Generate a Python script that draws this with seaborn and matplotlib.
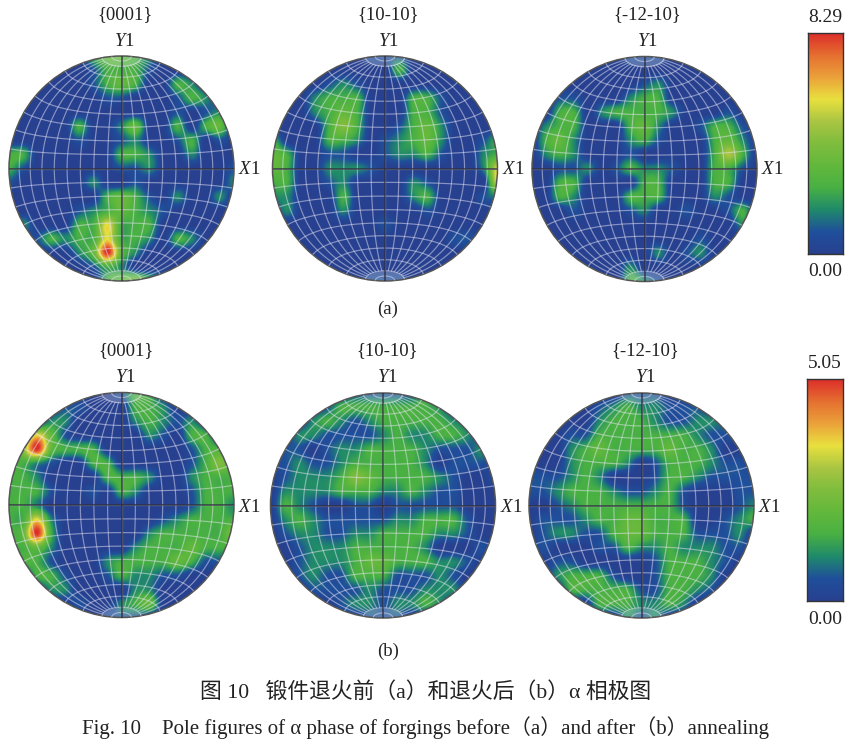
import numpy as np
import matplotlib
matplotlib.use("Agg")
import matplotlib.pyplot as plt
from matplotlib.patches import Circle
import seaborn as sns

# intensities in tenths of the colour scale, 17 x 17 samples over each disk, top row first
a_0001 = [
    [0,0,0,0,0,0,3,4,4,3,2,0,0,0,0,0,0],
    [0,0,0,0,0,0,1,3,3,3,1,0,0,0,0,0,0],
    [0,0,0,0,0,0,1,3,4,3,0,0,3,2,0,0,0],
    [0,0,0,0,0,0,0,1,1,0,0,0,1,3,2,0,0],
    [0,0,0,0,0,0,0,0,0,0,0,0,1,0,1,2,0],
    [0,0,0,0,0,3,0,0,2,4,0,0,3,0,3,4,0],
    [0,0,0,0,0,1,0,0,1,2,0,0,1,3,0,1,0],
    [3,3,0,0,0,0,0,0,3,3,2,0,0,2,0,0,0],
    [3,1,0,0,0,0,0,0,1,1,2,0,0,0,0,0,1],
    [1,0,0,0,0,0,2,0,0,1,0,0,0,0,0,0,2],
    [0,0,0,0,0,0,0,3,4,3,1,0,2,0,0,2,0],
    [0,0,0,0,0,1,2,3,4,3,2,1,0,0,0,0,0],
    [0,2,0,0,0,3,3,7,3,3,3,0,0,0,0,0,0],
    [0,0,1,3,2,3,3,7,3,3,2,0,3,2,0,0,0],
    [0,0,0,0,0,2,4,10,4,2,0,0,0,0,0,0,0],
    [0,0,0,0,0,0,1,3,2,0,0,0,0,0,0,0,0],
    [0,0,0,0,0,0,0,3,4,5,3,2,0,0,0,0,0],
]
a_1010 = [
    [0,0,0,0,0,0,0,1,1,1,0,0,0,0,0,0,0],
    [0,0,0,0,0,0,0,0,0,3,0,0,0,0,0,0,0],
    [0,0,0,0,1,2,1,0,0,0,0,0,0,0,0,0,0],
    [0,0,0,2,3,3,3,0,0,0,3,3,1,0,0,0,0],
    [0,0,0,2,3,4,3,0,0,0,3,3,1,0,0,0,0],
    [0,0,0,0,3,5,3,0,0,1,3,4,2,0,0,0,0],
    [3,0,0,0,3,3,2,0,1,2,3,4,2,0,0,1,3],
    [4,3,0,0,1,1,0,0,1,2,2,3,1,0,0,2,3],
    [4,3,0,0,2,2,2,1,0,0,0,0,0,0,0,2,7],
    [3,3,0,0,1,2,0,0,0,0,2,1,0,0,0,0,7],
    [2,2,0,0,0,3,0,0,0,0,2,3,0,0,0,1,2],
    [0,2,0,0,0,2,0,0,0,0,0,1,0,0,0,0,0],
    [0,0,0,0,0,0,0,0,1,0,0,0,0,0,0,0,0],
    [0,0,0,0,0,0,0,0,0,0,0,0,0,1,1,0,0],
    [0,0,0,0,0,0,0,0,0,0,0,0,0,0,0,0,0],
    [0,0,0,0,0,0,0,0,0,0,0,0,0,0,0,0,0],
    [0,0,0,0,0,0,0,1,1,1,0,0,0,0,0,0,0],
]
a_1210 = [
    [0,0,0,0,0,0,0,1,1,1,0,0,0,0,0,0,0],
    [0,0,0,0,0,0,0,0,0,0,0,0,0,0,0,0,0],
    [0,0,0,0,0,0,0,0,1,2,0,0,0,0,0,0,0],
    [0,0,1,1,0,0,0,2,3,3,0,0,0,0,0,0,0],
    [0,0,3,3,0,2,3,3,3,3,2,0,0,0,1,0,0],
    [0,2,3,3,0,0,0,3,4,2,0,0,1,3,3,1,0],
    [0,3,4,2,0,0,0,2,3,1,0,0,0,3,4,2,0],
    [0,2,3,2,0,0,0,1,0,0,0,0,0,3,6,3,0],
    [0,0,1,1,2,0,1,3,2,2,1,0,0,3,3,1,0],
    [0,0,3,3,0,0,0,0,3,3,0,0,0,3,3,0,0],
    [0,0,3,2,0,0,0,3,3,3,0,0,0,2,1,0,0],
    [0,0,0,1,0,0,0,1,2,0,0,1,0,0,1,3,0],
    [0,0,0,0,0,0,0,0,0,0,0,0,0,0,0,2,0],
    [0,0,0,0,0,0,0,0,0,0,0,0,1,0,0,0,0],
    [0,0,0,0,0,0,0,0,0,2,0,1,2,0,0,0,0],
    [0,0,0,0,0,0,0,2,0,0,0,0,0,0,0,0,0],
    [0,0,0,0,0,0,0,3,2,1,0,0,0,0,0,0,0],
]
b_0001 = [
    [0,0,0,0,0,0,0,0,1,3,3,0,0,0,0,0,0],
    [0,0,0,0,1,1,0,0,0,3,3,2,0,0,0,0,0],
    [0,0,0,2,2,0,0,0,0,2,3,2,1,2,0,0,0],
    [0,3,7,4,1,0,0,0,0,0,2,1,0,3,3,0,0],
    [0,5,10,4,3,3,3,0,0,0,0,0,0,1,3,3,0],
    [3,3,2,1,0,0,3,3,0,0,0,0,0,1,3,5,3],
    [3,3,2,0,0,0,0,3,3,3,2,0,0,2,3,3,3],
    [3,3,3,1,0,0,1,0,3,2,0,0,0,1,3,3,3],
    [3,3,2,0,0,0,0,0,0,0,0,0,0,1,3,3,2],
    [3,3,7,2,0,0,0,0,0,0,0,1,2,3,3,3,3],
    [3,4,10,3,0,0,0,0,0,0,2,3,3,3,3,3,5],
    [3,3,4,2,0,0,0,0,0,2,3,3,3,4,3,3,3],
    [0,3,3,1,0,0,0,2,3,3,3,3,4,3,1,1,0],
    [0,0,3,3,1,0,0,1,3,2,2,1,1,0,0,0,0],
    [0,0,0,2,2,0,0,0,0,2,2,0,0,0,0,0,0],
    [0,0,0,0,0,1,0,0,2,3,4,0,0,0,0,0,0],
    [0,0,0,0,0,0,0,1,1,1,0,0,0,0,0,0,0],
]
b_1010 = [
    [0,0,0,0,0,0,1,1,1,1,1,3,0,0,0,0,0],
    [0,0,0,0,1,3,3,3,3,3,3,3,2,0,0,0,0],
    [0,0,0,2,3,2,1,2,3,3,3,3,3,2,1,0,0],
    [0,0,2,2,1,1,1,1,2,3,2,2,3,3,2,0,0],
    [0,1,1,0,1,2,2,3,3,3,3,2,1,1,1,2,0],
    [1,1,2,1,1,2,3,3,3,3,3,2,0,1,1,1,0],
    [0,1,2,2,2,3,5,4,3,3,3,3,2,1,0,0,1],
    [0,2,2,2,2,3,3,3,2,2,3,2,1,1,0,0,0],
    [0,3,2,1,0,0,1,1,0,1,1,1,1,1,0,0,0],
    [0,2,3,2,1,1,1,1,1,2,2,3,3,3,1,0,0],
    [0,1,2,2,1,1,2,2,3,3,3,3,2,2,1,0,0],
    [0,0,1,2,2,2,3,3,3,3,3,2,0,0,0,1,0],
    [0,0,1,2,2,2,3,4,4,3,3,3,2,2,1,0,0],
    [0,0,1,2,1,1,3,3,3,1,1,1,2,1,0,0,0],
    [0,0,0,1,1,1,1,2,1,1,1,2,2,2,0,0,0],
    [0,0,0,0,0,1,2,2,1,2,2,3,2,0,0,0,0],
    [0,0,0,0,0,0,0,1,1,1,0,0,0,0,0,0,0],
]
b_1210 = [
    [0,0,0,0,0,0,0,1,1,1,0,0,0,0,0,0,0],
    [0,0,0,0,0,1,2,3,2,2,1,1,1,0,0,0,0],
    [0,0,0,0,0,2,3,3,3,2,1,1,2,2,1,0,0],
    [0,0,0,1,1,3,3,3,3,3,3,3,2,1,1,1,0],
    [0,0,0,2,3,4,3,3,3,3,4,3,3,2,0,0,0],
    [0,0,0,2,3,3,3,2,0,1,3,3,3,2,1,1,0],
    [1,1,1,2,3,2,0,0,0,1,3,3,2,1,1,1,1],
    [1,1,2,3,3,3,2,1,1,2,3,1,0,0,0,1,1],
    [0,0,1,2,3,3,3,3,3,3,3,1,0,0,0,1,2],
    [0,1,1,1,2,3,3,4,4,3,3,3,0,0,1,2,3],
    [0,1,2,2,1,1,3,4,4,3,3,3,1,1,1,2,0],
    [0,1,0,0,0,1,1,3,2,2,3,2,2,2,1,1,0],
    [0,0,1,1,0,0,0,0,0,1,3,3,3,2,1,0,0],
    [0,0,2,3,3,3,1,0,0,1,3,3,3,2,0,0,0],
    [0,0,0,3,3,3,3,3,1,1,3,3,2,1,0,0,0],
    [0,0,0,0,0,3,3,3,2,2,3,2,0,0,0,0,0],
    [0,0,0,0,0,0,0,2,1,2,0,0,0,0,0,0,0],
]

scale_a = 8.29
scale_b = 5.05
plane_labels = ["{0001}", "{10-10}", "{-12-10}"]
row_a = [a_0001, a_1010, a_1210]
row_b = [b_0001, b_1010, b_1210]

W, H = 854, 746

sns.set_theme(style="white")
plt.rcParams['font.family'] = ['Liberation Serif', 'Noto Sans CJK SC']
plt.rcParams['mathtext.fontset'] = 'custom'
plt.rcParams['mathtext.rm'] = 'Liberation Serif'
plt.rcParams['mathtext.it'] = 'Liberation Serif:italic'

texture_cmap = sns.blend_palette(
    ["#27408f", "#1f4f9b", "#1f8a6a", "#48b043", "#62b83c", "#7fbc3d",
     "#a9c542", "#e8e03e", "#eba13a", "#e56f30", "#dc2e2a"],
    n_colors=256, as_cmap=True)


def px_axes(fig, x0, y0, w, h):
    return fig.add_axes([x0 / W, 1 - (y0 + h) / H, w / W, h / H])


def px_text(fig, x, y, s, size=13.5, **kw):
    fig.text(x / W, 1 - y / H, s, fontsize=size, color="#222222",
             ha="center", va="center", **kw)


def draw_net(ax):
    # equal-area net, 10 degree steps
    lat = np.radians(np.linspace(-80, 80, 81))
    for lon_deg in range(-80, 81, 10):
        lon = np.radians(lon_deg)
        z = np.cos(lat) * np.cos(lon)
        ax.plot(np.cos(lat) * np.sin(lon) / np.sqrt(1 + z), np.sin(lat) / np.sqrt(1 + z),
                color="#e8e6f5", lw=0.85, alpha=0.5)
    lon = np.radians(np.linspace(-90, 90, 91))
    for lat_deg in list(range(-80, 81, 10)) + [-85, 85]:
        phi = np.radians(lat_deg)
        z = np.cos(phi) * np.cos(lon)
        x = np.cos(phi) * np.sin(lon) / np.sqrt(1 + z)
        y = np.sin(phi) * np.ones_like(lon) / np.sqrt(1 + z)
        ax.plot(x, y, color="#e8e6f5", lw=0.85, alpha=0.5)
        if abs(lat_deg) == 80:
            ax.fill_between(x, y, np.sign(y) * np.sqrt(np.maximum(1 - x ** 2, 0)),
                            color="white", alpha=0.25, lw=0)


def draw_disk(fig, cx, cy, grid, scale, r=112.5):
    ax = px_axes(fig, cx - r, cy - r, 2 * r, 2 * r)
    values = np.array(grid, dtype=float) * scale / 10
    im = ax.imshow(values, cmap=texture_cmap, vmin=0, vmax=scale,
                   extent=(-1.0625, 1.0625, -1.0625, 1.0625),
                   interpolation="catrom", interpolation_stage="data")
    disk = Circle((0, 0), 1, transform=ax.transData)
    im.set_clip_path(disk)
    draw_net(ax)
    for line in ax.lines:
        line.set_clip_path(disk)
    for coll in ax.collections:
        coll.set_clip_path(disk)
    ax.plot([-1, 1], [0, 0], color="#2b2b3a", lw=1.1, alpha=0.85)
    ax.plot([0, 0], [-1, 1], color="#2b2b3a", lw=1.1, alpha=0.85)
    ax.add_patch(Circle((0, 0), 1, fill=False, ec="#555555", lw=1.1, clip_on=False))
    ax.set_xlim(-1, 1)
    ax.set_ylim(-1, 1)
    ax.axis("off")


def draw_colorbar(fig, x0, y0, w, h, label_top, label_bottom):
    ax = px_axes(fig, x0, y0, w, h)
    levels = np.linspace(1, 0, 256).reshape(-1, 1)
    sns.heatmap(levels, ax=ax, cmap=texture_cmap, vmin=0, vmax=1, cbar=False,
                xticklabels=False, yticklabels=False, rasterized=True)
    for spine in ax.spines.values():
        spine.set_visible(True)
        spine.set_color("#333333")
        spine.set_linewidth(1.0)
    px_text(fig, x0 + w / 2, y0 - 15, label_top, size=14)
    px_text(fig, x0 + w / 2, y0 + h + 18, label_bottom, size=14)


fig = plt.figure(figsize=(W / 100, H / 100), dpi=100, facecolor="white")

centers_a = [(121.5, 168.5), (385, 168.5), (644.5, 169)]
centers_b = [(121.5, 505), (383, 505.5), (641.5, 505.5)]

for (cx, cy), grid, name in zip(centers_a, row_a, plane_labels):
    draw_disk(fig, cx, cy, grid, scale_a)
    px_text(fig, cx + 3, 15, name)
    px_text(fig, cx + 3, 41, r"$\mathit{Y}$1")
    px_text(fig, cx + 128, 169, r"$\mathit{X}$1")
for (cx, cy), grid, name in zip(centers_b, row_b, plane_labels):
    draw_disk(fig, cx, cy, grid, scale_b)
    px_text(fig, cx + 4, 351, name)
    px_text(fig, cx + 4, 378, r"$\mathit{Y}$1")
    px_text(fig, cx + 128, 507, r"$\mathit{X}$1")

draw_colorbar(fig, 808, 33, 35, 221, "8.29", "0.00")
draw_colorbar(fig, 807, 379, 36, 222, "5.05", "0.00")

px_text(fig, 388, 309, "(a)")
px_text(fig, 388, 651, "(b)")

px_text(fig, 426, 692, "图 10   锻件退火前（a）和退火后（b）α 相极图", size=15.7)
px_text(fig, 426, 728, "Fig. 10    Pole figures of α phase of forgings before（a）and after（b）annealing", size=15)

fig.savefig("out.png", dpi=100)
